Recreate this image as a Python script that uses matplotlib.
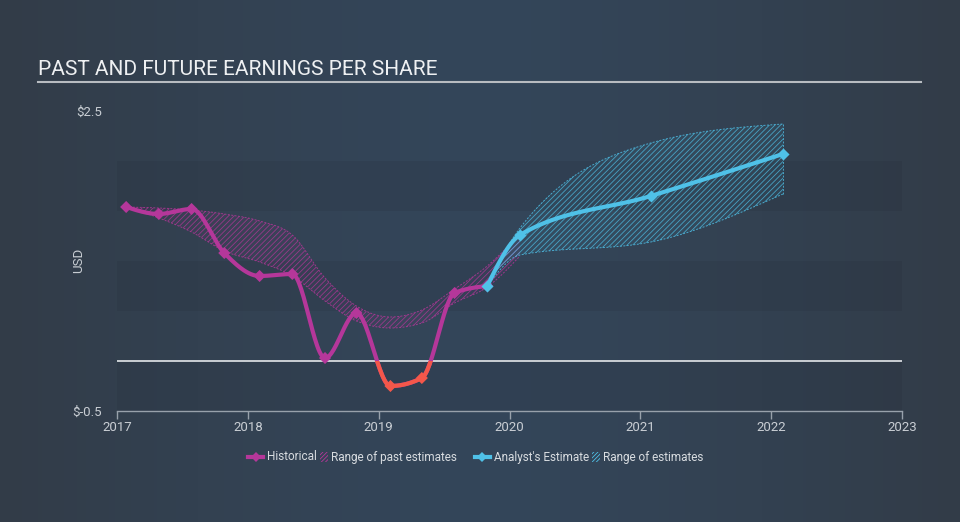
import numpy as np
import matplotlib.pyplot as plt
from matplotlib.lines import Line2D
from matplotlib.patches import Rectangle

plt.rcParams['font.family'] = ['Roboto', 'DejaVu Sans']
plt.rcParams['hatch.linewidth'] = 0.6

## Data
hist_x = [2017.07, 2017.32, 2017.57, 2017.82, 2018.09, 2018.34, 2018.59, 2018.83, 2019.09, 2019.33, 2019.58, 2019.83]
hist_y = [1.54, 1.47, 1.52, 1.08, 0.85, 0.87, 0.03, 0.48, -0.25, -0.17, 0.68, 0.75]

past_x = [2017.07, 2017.32, 2017.57, 2017.82, 2018.09, 2018.34, 2018.59, 2018.83, 2019.09, 2019.33, 2019.58, 2019.83, 2020.08]
past_hi = [1.54, 1.53, 1.51, 1.47, 1.40, 1.26, 0.83, 0.55, 0.44, 0.51, 0.72, 0.95, 1.27]
past_lo = [1.54, 1.43, 1.29, 1.10, 0.99, 0.85, 0.60, 0.40, 0.33, 0.38, 0.58, 0.74, 1.05]

est_x = [2019.83, 2020.08, 2021.08, 2022.09]
est_y = [0.75, 1.26, 1.65, 2.07]
est_hi = [0.75, 1.33, 2.18, 2.37]
est_lo = [0.75, 1.06, 1.19, 1.67]

year_ticks = [2017, 2018, 2019, 2020, 2021, 2022, 2023]

MAGENTA = '#b5379a'
RED = '#f4574a'
BLUE = '#4fc1e8'
TXT = '#c9ced4'


def monotone(xs, ys, n=30):
    # same idea as d3 curveMonotoneX, only used to draw the smooth line
    xs = np.asarray(xs, float)
    ys = np.asarray(ys, float)
    h = np.diff(xs)
    s = np.diff(ys) / h
    m = np.zeros(len(xs))
    for i in range(1, len(xs) - 1):
        p = (s[i - 1] * h[i] + s[i] * h[i - 1]) / (h[i - 1] + h[i])
        m[i] = (np.sign(s[i - 1]) + np.sign(s[i])) * min(abs(s[i - 1]), abs(s[i]), 0.5 * abs(p))
    m[0] = (3 * s[0] - m[1]) / 2
    m[-1] = (3 * s[-1] - m[-2]) / 2
    outx, outy = [], []
    t = np.linspace(0, 1, n)
    for i in range(len(xs) - 1):
        h00 = 2 * t**3 - 3 * t**2 + 1
        h10 = t**3 - 2 * t**2 + t
        h01 = -2 * t**3 + 3 * t**2
        h11 = t**3 - t**2
        outx.append(xs[i] + t * h[i])
        outy.append(h00 * ys[i] + h10 * h[i] * m[i] + h01 * ys[i + 1] + h11 * h[i] * m[i + 1])
    return np.concatenate(outx), np.concatenate(outy)


fig = plt.figure(figsize=(9.6, 5.22), dpi=100)

## background gradient
bg = fig.add_axes([0, 0, 1, 1], zorder=-10)
gx = np.linspace(-1, 1, 300)
grad = 1 - np.abs(gx) ** 1.3
c0 = np.array([0x32, 0x3c, 0x48]) / 255
c1 = np.array([0x34, 0x46, 0x5a]) / 255
img = c0[None, None, :] + (c1 - c0)[None, None, :] * grad[None, :, None]
bg.imshow(img, aspect='auto', extent=[0, 1, 0, 1])
bg.axis('off')

ax = fig.add_axes([117 / 960, 1 - 411 / 522, 785 / 960, 300 / 522])
ax.set_facecolor('none')
ax.set_xlim(2017, 2023)
ax.set_ylim(-0.5, 2.5)

## bands
for lo, hi in [(1.5, 2.0), (0.5, 1.0), (-0.5, 0.0)]:
    ax.axhspan(lo, hi, color='#1e2733', alpha=0.14, lw=0, zorder=0)
ax.axhline(0, color='#d6dade', lw=1.3, zorder=1)

## past estimates range
px, phi = monotone(past_x, past_hi)
_, plo = monotone(past_x, past_lo)
ax.fill_between(px, plo, phi, facecolor=MAGENTA, alpha=0.06, lw=0, zorder=2)
ax.fill_between(px, plo, phi, facecolor='none', edgecolor=MAGENTA, hatch='//////', lw=0, alpha=0.75, zorder=2)
ax.plot(px, phi, color=MAGENTA, lw=0.7, ls=(0, (2, 1.5)), alpha=0.8, zorder=2)
ax.plot(px, plo, color=MAGENTA, lw=0.7, ls=(0, (2, 1.5)), alpha=0.8, zorder=2)

## analyst range
ex, ehi = monotone(est_x, est_hi)
_, elo = monotone(est_x, est_lo)
ax.fill_between(ex, elo, ehi, facecolor=BLUE, alpha=0.06, lw=0, zorder=3)
ax.fill_between(ex, elo, ehi, facecolor='none', edgecolor=BLUE, hatch='//////', lw=0, alpha=0.75, zorder=3)
ax.plot(ex, ehi, color=BLUE, lw=0.7, ls=(0, (2, 1.5)), alpha=0.8, zorder=3)
ax.plot(ex, elo, color=BLUE, lw=0.7, ls=(0, (2, 1.5)), alpha=0.8, zorder=3)
ax.plot([est_x[-1], est_x[-1]], [est_lo[-1], est_hi[-1]], color=BLUE, lw=0.7, ls=(0, (2, 1.5)), alpha=0.8, zorder=3)

## historical line, red where below zero
hx, hy = monotone(hist_x, hist_y)
ax.plot(hx, hy, color=MAGENTA, lw=3, solid_capstyle='round', zorder=5)
red_line, = ax.plot(hx, hy, color=RED, lw=3, solid_capstyle='round', zorder=6)
red_line.set_clip_path(Rectangle((2016, -1), 10, 1, transform=ax.transData))
mcol = [RED if v < 0 else MAGENTA for v in hist_y]
ax.scatter(hist_x, hist_y, marker='D', s=38, c=mcol, lw=0, zorder=7)

## analyst estimate line
sx, sy = monotone(est_x, est_y)
ax.plot(sx, sy, color=BLUE, lw=3, solid_capstyle='round', zorder=8)
ax.scatter(est_x, est_y, marker='D', s=38, c=BLUE, lw=0, zorder=9)

## axes styling
for sp in ['top', 'right', 'left']:
    ax.spines[sp].set_visible(False)
ax.spines['bottom'].set_color('#98a1ab')
ax.spines['bottom'].set_linewidth(1)
ax.set_xticks(year_ticks)
ax.set_xticklabels([str(y) for y in year_ticks])
ax.tick_params(axis='x', colors='#98a1ab', labelcolor=TXT, length=6, width=1, pad=1, labelsize=9.5)
ax.set_yticks([-0.5, 2.5])
ax.set_yticklabels(['$-0.5', '$2.5'])
ax.tick_params(axis='y', length=0, pad=11, labelcolor=TXT, labelsize=9.5)
ax.set_ylabel('USD', color=TXT, fontsize=9.5)
ax.yaxis.set_label_coords(-0.041, 0.503)

## title + underline
fig.text(38 / 960, 1 - 75 / 522, 'PAST AND FUTURE EARNINGS PER SHARE', color='#eef0f2',
         fontsize=15, va='baseline', ha='left')
fig.add_artist(Line2D([38 / 960, 921 / 960], [1 - 82 / 522, 1 - 82 / 522], color='#b8bcc1', lw=1.5))

## legend, laid out by hand
fig.canvas.draw()
rend = fig.canvas.get_renderer()
ly = 1 - 457 / 522
W, H = 960.0, 522.0


def put_text(xpix, s):
    t = fig.text(xpix / W, ly, s, color='#d8dce0', fontsize=8.5, va='center', ha='left')
    bb = t.get_window_extent(rend)
    return bb.x1


def put_line(xpix, col):
    fig.add_artist(Line2D([xpix / W, (xpix + 15) / W], [ly, ly], color=col, lw=3))
    fig.add_artist(Line2D([(xpix + 7.5) / W], [ly], color=col, marker='D', ms=5.5, mew=0))
    return xpix + 19


def put_hatch(xpix, col):
    fig.add_artist(Rectangle((xpix / W, ly - 5 / H), 8 / W, 10 / H, facecolor='none',
                             edgecolor=col, hatch='////////', lw=0, transform=fig.transFigure))
    return xpix + 11


x = put_line(248, MAGENTA)
x = put_text(x, 'Historical')
x = put_hatch(x + 3, MAGENTA)
x = put_text(x, 'Range of past estimates')
x = put_line(475, BLUE)
x = put_text(x, "Analyst's Estimate")
x = put_hatch(x + 3, BLUE)
put_text(x, 'Range of estimates')

plt.savefig('out.png', dpi=100)
